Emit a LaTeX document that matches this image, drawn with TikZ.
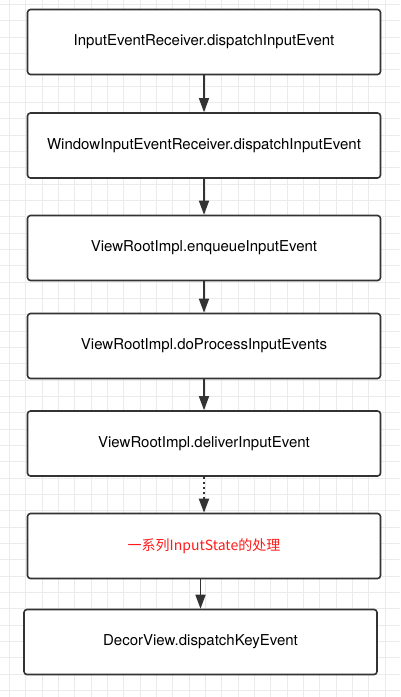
\documentclass[tikz,border=0pt]{standalone}
\usepackage{fontspec}
\setmainfont{TeX Gyre Heros}
\newfontfamily\cjk{Noto Sans CJK SC}
\usepackage{tikz}
\usetikzlibrary{arrows.meta, positioning}

\definecolor{gridgray}{HTML}{EBEBEB}
\definecolor{boxline}{HTML}{333333}
\definecolor{statered}{HTML}{FF1A1A}

\begin{document}
\begin{tikzpicture}[x=1pt, y=-1pt,
    callbox/.style={draw=boxline, line width=1.6pt, rounded corners=3pt, fill=white,
        minimum width=353pt, minimum height=65pt, font=\fontsize{15}{18}\selectfont},
    flow/.style={draw=boxline, line width=1.5pt, -{Triangle[length=14pt, width=10pt]}},
    dotflow/.style={flow, line width=2pt, dash pattern=on 2pt off 3pt}]
    % Background grid
    \useasboundingbox (0,0) rectangle (400,697);
    \fill[white] (0,0) rectangle (400,697);
    \foreach \i in {0,...,24}
        \draw[gridgray, line width=0.8pt] ({9.4+16.33*\i},0) -- ({9.4+16.33*\i},697);
    \foreach \j in {0,...,42}
        \draw[gridgray, line width=0.8pt] (0,{4.4+16.33*\j}) -- (400,{4.4+16.33*\j});

    % Call chain
    \node[callbox] (receiver) at (204,42) {InputEventReceiver.dispatchInputEvent};
    \node[callbox] (winreceiver) at (204,145.5) {WindowInputEventReceiver.dispatchInputEvent};
    \node[callbox] (enqueue) at (204,248) {ViewRootImpl.enqueueInputEvent};
    \node[callbox] (doprocess) at (204,346) {ViewRootImpl.doProcessInputEvents};
    \node[callbox] (deliver) at (204,443.5) {ViewRootImpl.deliverInputEvent};
    \node[callbox, text=statered, font=\fontsize{14}{17}\selectfont] (stages) at (204,546) {\cjk 一系列InputState的处理};
    \node[callbox] (decor) at (200.5,642) {DecorView.dispatchKeyEvent};

    % Arrows
    \draw[flow] (receiver) -- (winreceiver);
    \draw[flow] (winreceiver) -- (enqueue);
    \draw[flow] (enqueue) -- (doprocess);
    \draw[flow] (doprocess) -- (deliver);
    \draw[dotflow] (deliver) -- (stages);
    \draw[flow] (stages.south -| decor.north) -- (decor.north);
\end{tikzpicture}
\end{document}
